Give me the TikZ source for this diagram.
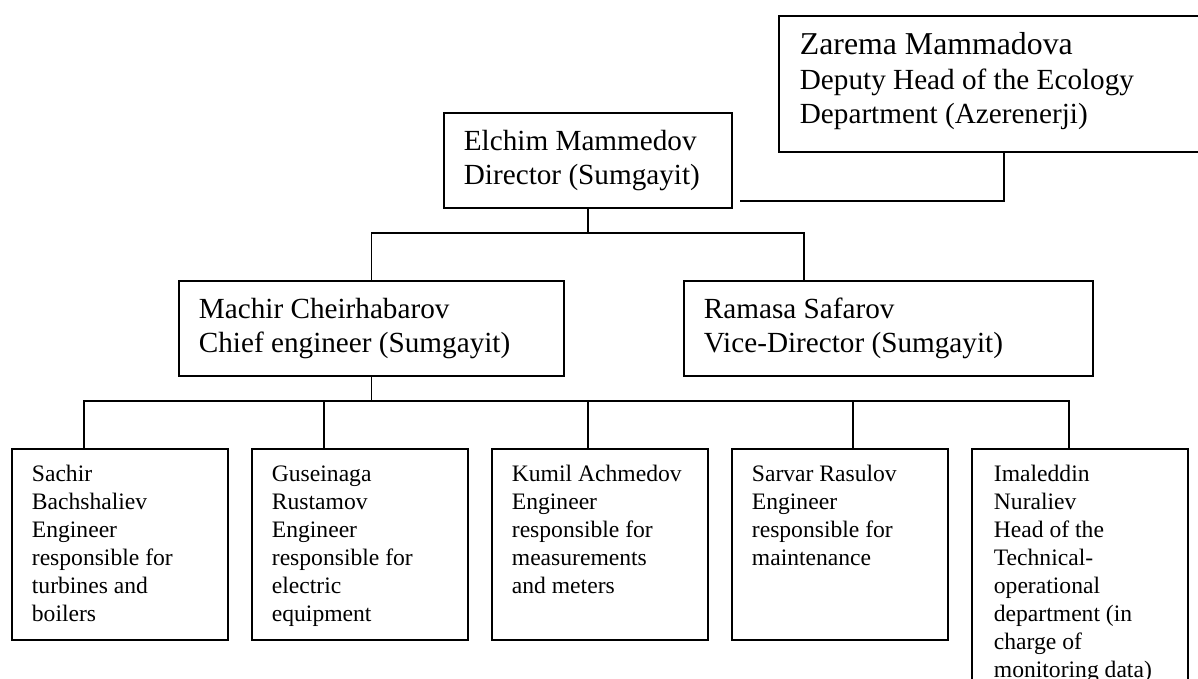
\documentclass[tikz,border=0pt]{standalone}
\usepackage{fontspec}
\setmainfont{Liberation Serif}
\newcommand{\bigfont}{\fontsize{29.2}{33.5}\selectfont}
\newcommand{\namefont}{\fontsize{31.8}{33.5}\selectfont}
\newcommand{\smallfont}{\fontsize{23.6}{28}\selectfont}
% width, height, top gap, text
\newcommand{\boxtext}[4]{\parbox[c][#2][t]{#1}{\raggedright\vspace*{#3}\strut #4}}
\tikzset{
  box/.style={draw, line width=1.8pt, anchor=north west, inner xsep=20pt, inner ysep=0pt, font=\bigfont},
  smallbox/.style={box, font=\smallfont},
  link/.style={line width=1.8pt},
}

\begin{document}
\begin{tikzpicture}[x=1pt, y=-1pt]
\useasboundingbox (0,0) rectangle (1198,679);
\clip (0,0) rectangle (1198,679);

% Ecology department
\node[box, inner xsep=21pt] (zarema) at (778,15) {\boxtext{498pt}{136pt}{15.5pt}{{\namefont Zarema Mammadova}\\[1.5pt]
  Deputy Head of the Ecology\\Department (Azerenerji)}};
\coordinate (zend) at (740,201);

% Director
\node[box] (elchim) at (443,112) {\boxtext{248pt}{95pt}{14.5pt}{Elchim Mammedov\\Director (Sumgayit)}};

% Second level
\node[box] (machir) at (178,280) {\boxtext{345pt}{95pt}{14.5pt}{Machir Cheirhabarov\\Chief engineer (Sumgayit)}};
\node[box] (ramasa) at (683,280) {\boxtext{369pt}{95pt}{14.5pt}{Ramasa Safarov\\Vice-Director (Sumgayit)}};

% Engineers
\node[smallbox] (sachir) at (11,448) {\boxtext{176pt}{191pt}{13.4pt}{Sachir\\Bachshaliev\\Engineer\\responsible for\\turbines and\\boilers}};
\node[smallbox] (guseinaga) at (251,448) {\boxtext{176pt}{191pt}{13.4pt}{Guseinaga\\Rustamov\\Engineer\\responsible for\\electric\\equipment}};
\node[smallbox] (kumil) at (491,448) {\boxtext{176pt}{191pt}{13.4pt}{Kumil Achmedov\\Engineer\\responsible for\\measurements\\and meters}};
\node[smallbox] (sarvar) at (731,448) {\boxtext{176pt}{191pt}{13.4pt}{Sarvar Rasulov\\Engineer\\responsible for\\maintenance}};
\node[smallbox, inner xsep=22pt] (imaleddin) at (971,448) {\boxtext{172pt}{262pt}{13.4pt}{Imaleddin\\Nuraliev\\Head of the\\Technical-\\operational\\department (in\\charge of\\monitoring data)}};

% Lines
\draw[link] ([xshift=226pt]zarema.south west) |- (zend);
\draw[link] (elchim.south) -- ++(0,24) coordinate (topbus) -| (machir.north);
\draw[link] (topbus) -| ([xshift=-84.5pt]ramasa.north);
\draw[link] (machir.south) -- ++(0,24) coordinate (lowbus);
\draw[link] (lowbus) -| ([xshift=-36pt]sachir.north);
\draw[link] (lowbus) -| ([xshift=-36pt]guseinaga.north);
\draw[link] (lowbus) -| ([xshift=-12pt]kumil.north);
\draw[link] (lowbus) -| ([xshift=13pt]sarvar.north);
\draw[link] (lowbus) -| ([xshift=-11pt]imaleddin.north);
\end{tikzpicture}
\end{document}
